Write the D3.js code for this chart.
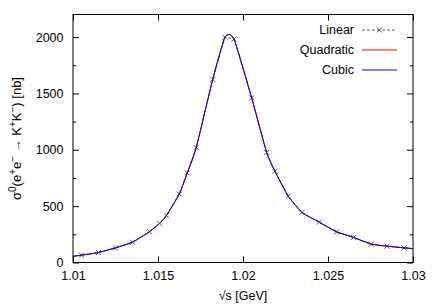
<!DOCTYPE html>
<html>
<head>
<meta charset="utf-8">
<script src="https://cdn.jsdelivr.net/npm/d3@7"></script>
<style>
  body { margin: 0; background: #fff; }
  text { font-family: "Liberation Sans", Arial, sans-serif; }
</style>
</head>
<body>
<div id="chart"></div>
<script>
// sqrt(s) in GeV, cross section in nb
var energies = [1.0095, 1.0105, 1.0115, 1.0125, 1.0135, 1.0145, 1.0151, 1.0155, 1.01625, 1.01672,
  1.01725, 1.01822, 1.01894, 1.01947, 1.02051, 1.02139, 1.02188, 1.02266, 1.02347, 1.02448,
  1.02551, 1.02651, 1.02755, 1.02847, 1.02947, 1.0305];
var sigma = [45, 65, 89, 130, 180, 274, 347, 418, 607, 794,
  1020, 1625, 1998, 1982, 1460, 976, 809, 589, 444, 358,
  272, 222, 163, 145, 130, 116];
var seriesNames = ['Linear', 'Quadratic', 'Cubic'];
var xTicks = [1.01, 1.015, 1.02, 1.025, 1.03];
var yTicks = [0, 500, 1000, 1500, 2000];
var yMinor = [250, 750, 1250, 1750];

var width = 436, height = 305;
var margin = {top: 14.5, right: 23, bottom: 42.5, left: 73};
var w = width - margin.left - margin.right;
var h = height - margin.top - margin.bottom;

var svg = d3.select('#chart').append('svg')
	.attr('width', width)
	.attr('height', height);

var g = svg.append('g')
	.attr('transform', 'translate(' + margin.left + ',' + margin.top + ')');

var x = d3.scaleLinear().domain([1.01, 1.03]).range([0, w]);
var y = d3.scaleLinear().domain([0, 2200]).range([h, 0]);

var data = energies.map(function(e, i) { return {x: e, y: sigma[i]}; });

g.append('clipPath').attr('id', 'clip')
	.append('rect').attr('width', w).attr('height', h);

/*
 * axes, ticks pointing inwards on all four sides
 */
function styleAxis(sel) {
	sel.select('.domain').remove();
	sel.selectAll('line').attr('stroke', '#000');
	sel.selectAll('text').attr('font-size', '12.5px').attr('fill', '#000')
		.attr('font-family', '"Liberation Sans", Arial, sans-serif');
}

g.append('g').attr('transform', 'translate(0,' + h + ')')
	.call(d3.axisBottom(x).tickValues(xTicks).tickSize(-6).tickPadding(9).tickFormat(d3.format('')))
	.call(styleAxis);
g.append('g')
	.call(d3.axisTop(x).tickValues(xTicks).tickSize(-6).tickFormat(''))
	.call(styleAxis);
g.append('g')
	.call(d3.axisLeft(y).tickValues(yTicks).tickSize(-6).tickPadding(9.5).tickFormat(d3.format('d')))
	.call(styleAxis);
g.append('g').attr('transform', 'translate(' + w + ',0)')
	.call(d3.axisRight(y).tickValues(yTicks).tickSize(-6).tickFormat(''))
	.call(styleAxis);
g.append('g')
	.call(d3.axisLeft(y).tickValues(yMinor).tickSize(-3).tickFormat(''))
	.call(styleAxis);
g.append('g').attr('transform', 'translate(' + w + ',0)')
	.call(d3.axisRight(y).tickValues(yMinor).tickSize(-3).tickFormat(''))
	.call(styleAxis);

/*
 * curves
 */
var plot = g.append('g').attr('clip-path', 'url(#clip)');

var lineLinear = d3.line().x(function(d) { return x(d.x); }).y(function(d) { return y(d.y); })
	.curve(d3.curveLinear);
var lineQuad = d3.line().x(function(d) { return x(d.x); }).y(function(d) { return y(d.y); })
	.curve(d3.curveCardinal.tension(0.4));
var lineCubic = d3.line().x(function(d) { return x(d.x); }).y(function(d) { return y(d.y); })
	.curve(d3.curveCardinal.tension(0.45));

var colors = {'Linear': '#555', 'Quadratic': '#ff0000', 'Cubic': '#0000ff'};

plot.append('path').datum(data)
	.attr('d', lineLinear)
	.attr('fill', 'none')
	.attr('stroke', colors['Linear'])
	.attr('stroke-width', 1)
	.attr('stroke-dasharray', '3,2');

function cross(sel, s) {
	sel.append('path')
		.attr('d', 'M' + (-s) + ',' + (-s) + 'L' + s + ',' + s + 'M' + (-s) + ',' + s + 'L' + s + ',' + (-s))
		.attr('stroke', colors['Linear'])
		.attr('stroke-width', 1)
		.attr('fill', 'none');
}

plot.selectAll('.pt').data(data).enter()
	.append('g')
		.attr('class', 'pt')
		.attr('transform', function(d) { return 'translate(' + x(d.x) + ',' + y(d.y) + ')'; })
		.each(function() { cross(d3.select(this), 2.5); });

plot.append('path').datum(data)
	.attr('d', lineQuad)
	.attr('fill', 'none')
	.attr('stroke', colors['Quadratic'])
	.attr('stroke-width', 1);

plot.append('path').datum(data)
	.attr('d', lineCubic)
	.attr('fill', 'none')
	.attr('stroke', colors['Cubic'])
	.attr('stroke-width', 1);

// frame
g.append('rect')
	.attr('width', w).attr('height', h)
	.attr('fill', 'none')
	.attr('stroke', '#000')
	.attr('stroke-width', 1);

/*
 * legend
 */
var legend = g.selectAll('.legend').data(seriesNames).enter()
	.append('g')
		.attr('class', 'legend')
		.attr('transform', function(d, i) { return 'translate(0,' + (15.5 + i * 20) + ')'; });

legend.append('text')
	.attr('x', 354 - margin.left)
	.attr('y', 4)
	.attr('text-anchor', 'end')
	.attr('font-size', '12.5px')
	.text(function(d) { return d; });

legend.append('line')
	.attr('x1', 362 - margin.left)
	.attr('x2', 397 - margin.left)
	.attr('stroke', function(d) { return colors[d]; })
	.attr('stroke-width', 1)
	.attr('stroke-dasharray', function(d) { return d == 'Linear' ? '3,2' : null; });

legend.filter(function(d) { return d == 'Linear'; })
	.append('g')
		.attr('transform', 'translate(' + (379.5 - margin.left) + ',0)')
		.each(function() { cross(d3.select(this), 2.5); });

/*
 * axis titles
 */
svg.append('text')
	.attr('x', margin.left + w / 2)
	.attr('y', 300)
	.attr('text-anchor', 'middle')
	.attr('font-size', '12.5px')
	.text('\u221As [GeV]');

var ylab = svg.append('text')
	.attr('transform', 'translate(21,' + (margin.top + h / 2) + ') rotate(-90)')
	.attr('text-anchor', 'middle')
	.attr('font-size', '13px');

var parts = [
	['\u03C3', 0], ['0', 1], ['(e', 0], ['+', 1], ['e', 0], ['\u2212', 1],
	[' \u2192 K', 0], ['+', 1], ['K', 0], ['\u2212', 1], [') [nb]', 0]
];
var prev = 0;
parts.forEach(function(p) {
	var shift = p[1] ? -5 : 0;
	ylab.append('tspan')
		.attr('dy', shift - prev)
		.attr('font-size', p[1] ? '10px' : '13px')
		.text(p[0]);
	prev = shift;
});
</script>
</body>
</html>
